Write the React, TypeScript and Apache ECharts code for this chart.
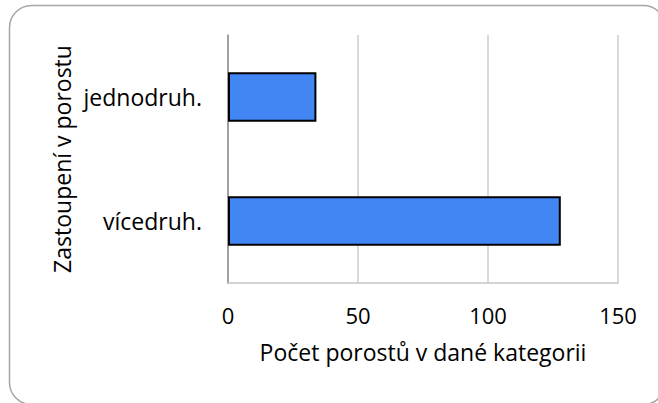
import React, { useEffect, useRef } from "react";
import * as echarts from "echarts";

const categories = ["jednodruh.", "vícedruh."];
const values = [34, 128];
const xTicks = [0, 50, 100, 150];
const xTitle = "Počet porostů v dané kategorii";
const yTitle = "Zastoupení v porostu";

export default function App() {
  const ref = useRef<HTMLDivElement>(null);
  useEffect(() => {
    if (!ref.current) return;
    const chart = echarts.init(ref.current, undefined, { renderer: "svg" });
    const font = "'Open Sans', 'Noto Sans', sans-serif";
    chart.setOption({
      animation: false,
      backgroundColor: "#ffffff",
      textStyle: { fontFamily: font },
      grid: { left: 228, right: 40, top: 35, bottom: 120 },
      xAxis: {
        type: "value",
        min: xTicks[0],
        max: xTicks[xTicks.length - 1],
        interval: 50,
        axisLine: { show: true, lineStyle: { color: "#c4c4c4", width: 1.5 } },
        axisTick: { show: false },
        splitLine: { show: true, lineStyle: { color: "#cccccc", width: 1.5 } },
        axisLabel: { color: "#000", fontSize: 22, margin: 21, fontFamily: font },
        name: xTitle,
        nameLocation: "middle",
        nameGap: 57,
        nameTextStyle: { color: "#000", fontSize: 23, fontFamily: font },
      },
      yAxis: {
        type: "category",
        data: categories,
        inverse: true,
        axisLine: { show: true, lineStyle: { color: "#8c8c8c", width: 1.5 } },
        axisTick: { show: false },
        axisLabel: { color: "#000", fontSize: 23, margin: 26, fontFamily: font },
      },
      series: [
        {
          type: "bar",
          data: values,
          barCategoryGap: "60%",
          itemStyle: { color: "#4286f4", borderColor: "#000", borderWidth: 2 },
        },
      ],
      graphic: [
        {
          type: "rect",
          shape: { x: 9.5, y: 5.5, width: 656, height: 399, r: 22 },
          style: { fill: "none", stroke: "#a6a6a6", lineWidth: 1.5 },
          silent: true,
        },
        {
          type: "text",
          x: 62,
          y: 159,
          rotation: Math.PI / 2,
          style: {
            text: yTitle,
            fill: "#000",
            font: `23px ${font}`,
            align: "center",
            verticalAlign: "middle",
          },
        },
      ],
    });
    return () => chart.dispose();
  }, []);
  return (
    <div
      ref={ref}
      style={{ position: "fixed", left: 0, top: 0, width: 658, height: 403 }}
    />
  );
}
